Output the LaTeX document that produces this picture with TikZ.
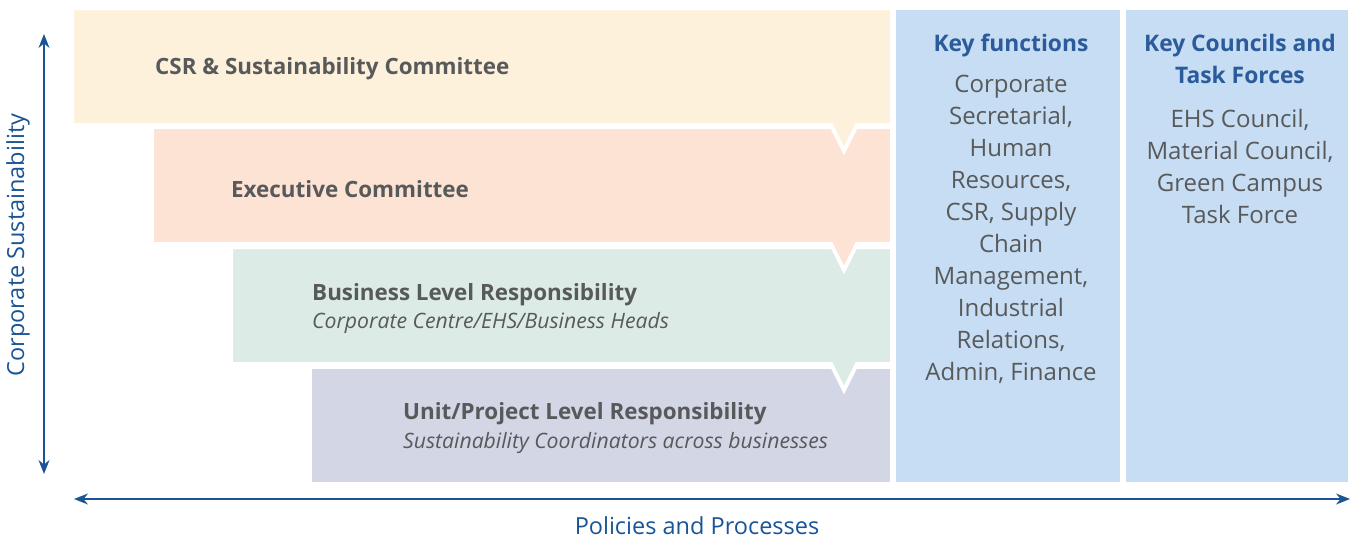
\documentclass[tikz,border=0pt]{standalone}
\usepackage{fontspec}
\setmainfont{Open Sans}
\usetikzlibrary{arrows.meta}
\definecolor{csr}{HTML}{FEF1DC}
\definecolor{exec}{HTML}{FDE3D3}
\definecolor{bus}{HTML}{DCEBE5}
\definecolor{unit}{HTML}{D3D6E5}
\definecolor{keyc}{HTML}{C6DDF3}
\definecolor{txt}{HTML}{58595B}
\definecolor{head}{HTML}{2B5B9A}
\definecolor{arr}{HTML}{1A5494}
\tikzset{
  tier/.style={draw=white, line width=4pt, line join=miter},
  title/.style={anchor=west, text=txt, font=\fontsize{22.4}{28}\selectfont\bfseries, inner sep=0pt},
  sub/.style={anchor=west, text=txt, font=\fontsize{21.2}{24}\selectfont\itshape, inner sep=0pt},
  keyhead/.style={text=head, font=\fontsize{22.8}{32}\selectfont\bfseries, align=center, inner sep=0pt},
  keybody/.style={text=txt, font=\fontsize{24}{32}\selectfont, align=center, inner sep=0pt},
  axis/.style={draw=arr, line width=1.3pt, {Stealth[length=14pt,width=11pt]}-{Stealth[length=14pt,width=11pt]}},
  axislabel/.style={text=arr, font=\fontsize{23.5}{28}\selectfont, inner sep=0pt}
}
\begin{document}
\begin{tikzpicture}[x=1pt,y=-1pt]
\useasboundingbox (0,0) rectangle (1352,538);
% key boxes
\fill[keyc] (896,10) rectangle (1120,482);
\fill[keyc] (1126,10) rectangle (1348,482);
% tiers (bottom first)
\path[tier, fill=unit] (310,367) -- (892,367) -- (892,484) -- (310,484) -- cycle;
\path[tier, fill=bus] (231,247) -- (892,247) -- (892,364) -- (857,364) -- (844,390) -- (831,364) -- (231,364) -- cycle;
\path[tier, fill=exec] (152,127) -- (892,127) -- (892,244) -- (857,244) -- (844,270) -- (831,244) -- (152,244) -- cycle;
\path[tier, fill=csr] (72,8) -- (892,8) -- (892,125) -- (857,125) -- (844,151) -- (831,125) -- (72,125) -- cycle;
% tier texts
\node[title] (t1) at (155,69) {CSR \& Sustainability Committee};
\node[title] (t2) at (231,189) {Executive Committee};
\node[title] (t3) at (312,295) {Business Level Responsibility};
\node[sub] (s3) at (312,323) {Corporate Centre/EHS/Business Heads};
\node[title] (t4) at (403,414) {Unit/Project Level Responsibility};
\node[sub] (s4) at (403,443) {Sustainability Coordinators across businesses};
% key functions
\node[keyhead] (kh1) at (1011,46) {Key functions};
\node[keybody, anchor=north] (kb1) at (1011,75) {Corporate\\Secretarial,\\Human\\Resources,\\CSR, Supply\\Chain\\Management,\\Industrial\\Relations,\\Admin, Finance};
\node[keyhead, anchor=north] (kh2) at (1240,34) {Key Councils and\\Task Forces};
\node[keybody, anchor=north] (kb2) at (1240,109) {EHS Council,\\Material Council,\\Green Campus\\Task Force};
% axes
\coordinate (vt) at (44,34);
\coordinate (vb) at (44,474);
\coordinate (hl) at (74,499);
\coordinate (hr) at (1350,499);
\draw[axis] (vt) -- (vb);
\draw[axis] (hl) -- (hr);
\node[axislabel, rotate=90] (yl) at (18,245) {Corporate Sustainability};
\node[axislabel] (xl) at (697,526) {Policies and Processes};
\end{tikzpicture}
\end{document}
